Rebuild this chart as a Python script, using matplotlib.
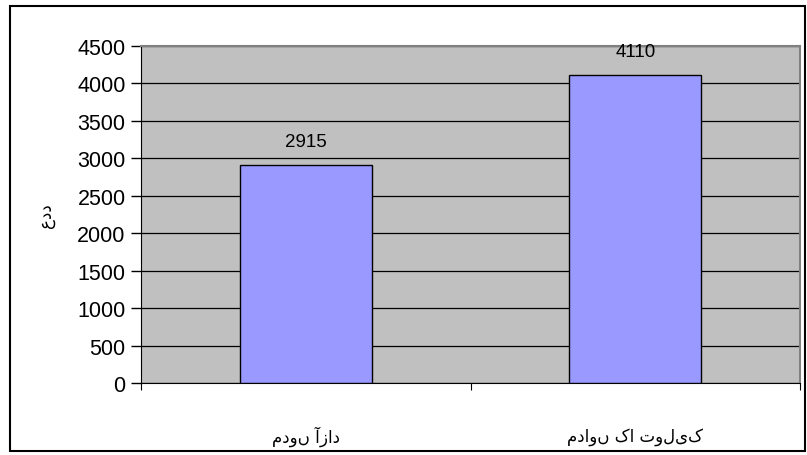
import matplotlib
matplotlib.use('Agg')
import matplotlib.pyplot as plt
import matplotlib.transforms as mtransforms
from matplotlib.patches import Rectangle

categories = ['مدوں آزاد', 'مداوں کا تولیک']
values = [2915, 4110]
yticks = [0, 500, 1000, 1500, 2000, 2500, 3000, 3500, 4000, 4500]
ylabel = 'عدد'

plt.rcParams['font.family'] = ['Liberation Sans', 'DejaVu Sans']

W, H = 807, 456
fig = plt.figure(figsize=(W / 100, H / 100), dpi=100)
# outer frame
fig.patches.append(Rectangle((10 / W, 4 / H), 795 / W, 445 / H, transform=fig.transFigure,
                             fill=False, edgecolor='black', linewidth=1.5))

ax = fig.add_axes([141 / W, 1 - 384 / H, 659 / W, 337 / H])
ax.set_facecolor('#C0C0C0')
x = range(len(categories))
ax.bar(x, values, width=0.4, color='#9999FF', edgecolor='black', linewidth=1, zorder=3)
for i, v in enumerate(values):
    ax.text(i, v + 200, str(v), ha='center', va='bottom', fontsize=13.5, zorder=4)

ax.set_xlim(-0.5, 1.5)
ax.set_ylim(0, 4500)
ax.set_yticks(yticks)
ax.tick_params(axis='y', labelsize=15.5, length=7, direction='out', width=1, pad=4)
ax.yaxis.grid(True, color='black', linewidth=0.9, zorder=1)
ax.set_xticks([-0.5, 0.5, 1.5])
ax.set_xticklabels([])
ax.tick_params(axis='x', which='major', length=5, direction='out')

# category labels sit well below the axis
trans = mtransforms.blended_transform_factory(ax.transData, ax.transAxes)
for i, c in enumerate(categories):
    ax.text(i, -53 / 337, c, transform=trans, ha='center', va='center',
            fontsize=12, family=['DejaVu Sans'])

ax.spines['left'].set_color('black')
ax.spines['bottom'].set_color('black')
ax.spines['top'].set_color('#808080')
ax.spines['right'].set_color('#808080')
ax.spines['top'].set_linewidth(1.5)
ax.spines['right'].set_linewidth(1.5)
ax.set_ylabel(ylabel, fontsize=12, family=['DejaVu Sans'], labelpad=16)

fig.savefig('out.png', dpi=100)
